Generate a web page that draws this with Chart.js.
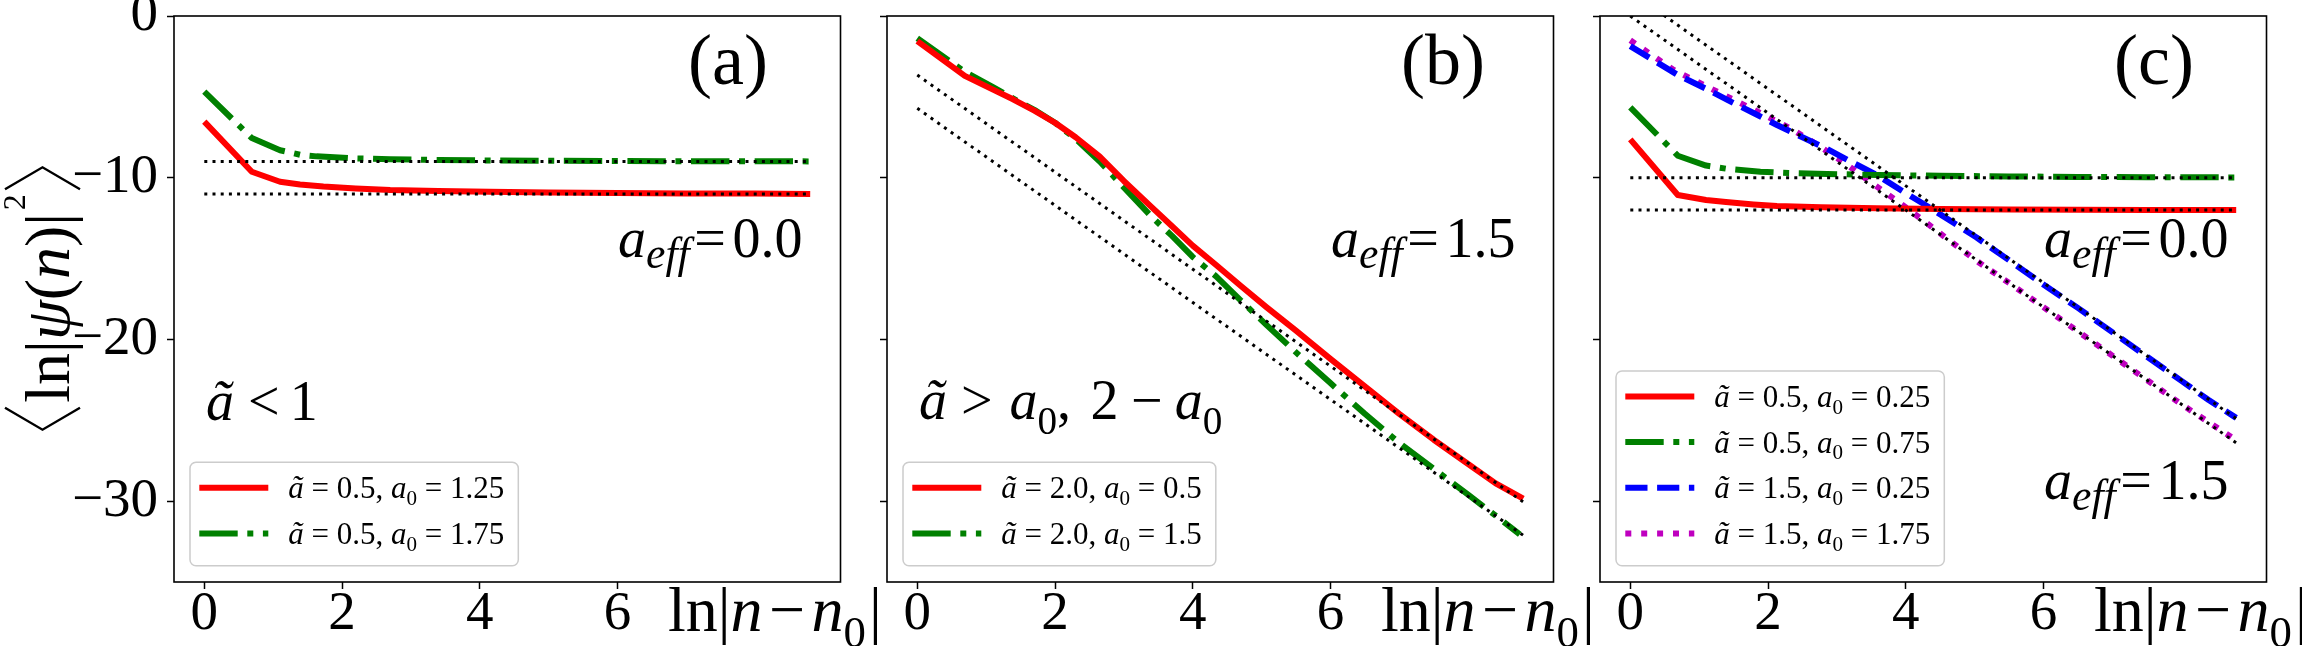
<!DOCTYPE html>
<html>
<head>
<meta charset="utf-8">
<script src="https://cdn.jsdelivr.net/npm/chart.js@4.4.1/dist/chart.umd.min.js"></script>
<style>
  html, body { margin: 0; padding: 0; background: #fff; }
  #wrap { position: relative; width: 2302px; height: 646px; overflow: hidden; }
  canvas { position: absolute; left: 0; top: 0; }
</style>
</head>
<body>
<div id="wrap">
  <canvas id="pa" width="2302" height="646"></canvas>
  <canvas id="pb" width="2302" height="646"></canvas>
  <canvas id="pc" width="2302" height="646"></canvas>
</div>
<script>
// ---- data (x = ln|n-n0|, y = <ln|psi(n)|^2>) ----
// panel (a)
const aRedX = [0, 0.69, 1.1, 1.39, 1.73, 2.2, 2.7, 3.4, 4.14, 5.0, 6.0, 7.0, 8.0, 8.8]
const aRedY = [-6.53, -9.63, -10.25, -10.42, -10.55, -10.67, -10.76, -10.82, -10.87, -10.92, -10.95, -10.97, -10.98, -11.0]
const aGreenX = [0, 0.69, 1.1, 1.39, 1.63, 2.16, 2.7, 3.4, 4.1, 5.0, 6.0, 7.0, 8.0, 8.8]
const aGreenY = [-4.68, -7.55, -8.3, -8.58, -8.68, -8.8, -8.86, -8.9, -8.93, -8.95, -8.97, -8.98, -8.98, -8.99]
const aRefX = [0, 8.8]
const aRef1 = [-9, -9]
const aRef2 = [-11, -11]
const aTilde = ['0.5', '0.5']
const aZero = ['1.25', '1.75']

// panel (b)
const bRedX = [0, 0.69, 1.1, 1.39, 1.7, 2.0, 2.3, 2.65, 3.0, 3.4, 3.7, 4.0, 4.34, 4.7, 5.07, 5.5, 6.0, 6.5, 7.0, 7.5, 8.0, 8.4, 8.8]
const bRedY = [-1.55, -3.7, -4.55, -5.15, -5.85, -6.6, -7.5, -8.7, -10.2, -11.8, -13.0, -14.2, -15.4, -16.7, -18.0, -19.45, -21.2, -22.9, -24.6, -26.2, -27.7, -28.9, -29.85]
const bGreenX = [0, 0.69, 1.1, 1.39, 1.7, 2.0, 2.3, 2.65, 3.0, 3.4, 3.7, 4.0, 4.34, 4.7, 5.07, 5.5, 6.0, 6.5, 7.0, 7.5, 8.0, 8.4, 8.75]
const bGreenY = [-1.38, -3.45, -4.4, -5.1, -5.8, -6.6, -7.6, -9.0, -10.6, -12.4, -13.6, -14.9, -16.1, -17.6, -19.1, -20.8, -22.7, -24.6, -26.4, -28.0, -29.6, -30.9, -32.05]
const bRefX = [0, 8.8]
const bRef1 = [-3.65, -30.05]
const bRef2 = [-5.71, -32.11]
const bTilde = ['2.0', '2.0']
const bZero = ['0.5', '1.5']

// panel (c)
const cRedX = [0, 0.69, 1.1, 1.39, 1.79, 2.13, 2.77, 3.58, 4.5, 5.5, 6.5, 7.5, 8.8]
const cRedY = [-7.63, -11.07, -11.38, -11.5, -11.65, -11.75, -11.83, -11.89, -11.94, -11.97, -11.98, -11.99, -12.0]
const cGreenX = [0, 0.69, 1.1, 1.39, 1.89, 2.3, 2.86, 3.6, 4.5, 5.5, 6.5, 7.5, 8.8]
const cGreenY = [-5.65, -8.64, -9.25, -9.44, -9.63, -9.71, -9.77, -9.83, -9.88, -9.92, -9.95, -9.97, -9.98]
const cBlueX = [0, 0.69, 1.1, 1.41, 1.79, 2.13, 2.5, 2.86, 3.2, 3.58, 4.0, 4.31, 4.7, 5.03, 5.5, 6.0, 6.5, 7.0, 7.5, 8.0, 8.4, 8.8]
const cBlueY = [-1.86, -3.65, -4.5, -5.19, -6.0, -6.74, -7.5, -8.22, -9.0, -9.83, -10.95, -11.75, -12.8, -13.7, -15.1, -16.6, -18.05, -19.55, -21.05, -22.55, -23.75, -24.85]
const cMagX = [0, 0.63, 1.29, 1.92, 2.35, 2.76, 3.15, 3.53, 3.92, 4.31, 4.69, 5.08, 5.51, 6.0, 6.5, 7.0, 7.5, 8.0, 8.75]
const cMagY = [-1.5, -3.34, -4.74, -6.06, -7.01, -8.08, -9.21, -10.39, -11.58, -12.82, -14.06, -15.29, -16.53, -18.0, -19.5, -21.0, -22.5, -24.0, -26.1]
const cRefX = [0, 8.8]
const cRef1 = [-10, -10]
const cRef2 = [-12, -12]
const cRef3 = [1.5, -24.9]
const cRef4 = [0, -26.4]
const cTilde = ['0.5', '0.5', '1.5', '1.5']
const cZero = ['0.25', '0.75', '0.25', '1.75']

const xTicks = [0, 2, 4, 6]
const yTicks = [-30, -20, -10, 0]

// ---- styles ----
const RED = '#ff0000', GREEN = '#008000', BLUE = '#0000ff', MAG = '#bf00bf'
const LW = 6
const SOLID = [], DASHDOT = [38.4, 9.6, 6, 9.6], DASHED = [22.2, 9.6], DOTTED = [6, 9.9]
const FONT = '"Liberation Serif", "Times New Roman", serif'
const PW = 666.5

Chart.defaults.font.family = FONT
Chart.defaults.color = '#000'

const pts = (xs, ys) => xs.map((x, i) => ({ x, y: ys[i] }))

// draws runs of [text, italic, scale, dy(em), pre(em), post(em)] from x on baseline y
function rich (ctx, runs, x, y, size, measureOnly) {
  let cx = x
  for (const r of runs) {
    const [t, it, sc, dy, pre, post] = r
    ctx.font = (it ? 'italic ' : '') + (size * (sc || 1)) + 'px ' + FONT
    cx += (pre || 0) * size
    if (!measureOnly) ctx.fillText(t, cx, y + (dy || 0) * size)
    cx += ctx.measureText(t).width + (post || 0) * size
  }
  return cx - x
}

const aEff = v => [['a', 1], ['eff', 1, 0.78, 0.2], ['=', 0, 1, 0, 0.08, 0.12], [v]]
const condA = [['ã', 1], ['<', 0, 1, 0, 0.25, 0.18], ['1']]
const condB = [['ã', 1], ['>', 0, 1, 0, 0.25, 0.3], ['a', 1], ['0', 0, 0.7, 0.27], [','],
  ['2', 0, 1, 0, 0.35], ['−', 0, 1, 0, 0.22, 0.22], ['a', 1], ['0', 0, 0.7, 0.27]]
const xLabel = [['ln'], ['|'], ['n', 1], ['−', 0, 1, 0, 0.1, 0.1], ['n', 1], ['0', 0, 0.7, 0.25], ['|', 0, 1, 0, 0.05]]

const DECO = {
  pa: { tag: '(a)', ylabel: true, notes: [[aEff('0.0'), 444, 257], [condA, 32, 419.5]] },
  pb: { tag: '(b)', notes: [[aEff('1.5'), 444, 257], [condB, 32, 419]] },
  pc: { tag: '(c)', notes: [[aEff('0.0'), 444, 257], [aEff('1.5'), 444, 499]] }
}

function drawLegend (ctx, ca, items) {
  const size = 31, rowH = 45.7
  const left = ca.left + 16, bottom = ca.bottom - 16.3
  const firstBase = bottom - 21.7 - (items.length - 1) * rowH
  const top = firstBase - 36
  const runsOf = ds => [['ã', 1], ['=', 0, 1, 0, 0.25, 0.25], [ds.aT + ','], ['a', 1, 1, 0, 0.25],
    ['0', 0, 0.68, 0.22], ['=', 0, 1, 0, 0.25, 0.25], [ds.a0]]
  let tw = 0
  items.forEach(ds => { tw = Math.max(tw, rich(ctx, runsOf(ds), 0, 0, size, true)) })
  const right = left + 98.3 + tw + 14
  ctx.save()
  ctx.beginPath()
  ctx.roundRect(left, top, right - left, bottom - top, 6)
  ctx.fillStyle = 'rgba(255,255,255,0.8)'
  ctx.fill()
  ctx.lineWidth = 1.5
  ctx.strokeStyle = '#cccccc'
  ctx.stroke()
  items.forEach((ds, i) => {
    const base = firstBase + i * rowH
    ctx.beginPath()
    ctx.setLineDash(ds.borderDash)
    ctx.lineCap = 'butt'
    ctx.lineWidth = ds.borderWidth
    ctx.strokeStyle = ds.borderColor
    ctx.moveTo(left + 9.3, base - 10.5)
    ctx.lineTo(left + 78.3, base - 10.5)
    ctx.stroke()
    ctx.setLineDash([])
    ctx.fillStyle = '#000'
    ctx.textBaseline = 'alphabetic'
    rich(ctx, runsOf(ds), left + 98.3, base, size)
  })
  ctx.restore()
}

function drawYLabel (ctx) {
  const runs = [['ln'], ['|'], ['ψ', 1], ['('], ['n', 1], [')'], ['|'], ['2', 0, 0.5, -0.69, 0.04]]
  const size = 64, bw = 22, gap = 5
  ctx.save()
  ctx.translate(69, 298.5)
  ctx.rotate(-Math.PI / 2)
  ctx.fillStyle = '#000'
  ctx.strokeStyle = '#000'
  ctx.lineWidth = 2.4
  const w = rich(ctx, runs, 0, 0, size, true) + 2 * (bw + gap)
  const x0 = -w / 2, xe = w / 2
  ctx.beginPath()
  ctx.moveTo(x0 + bw, -64); ctx.lineTo(x0, -26.5); ctx.lineTo(x0 + bw, 11)
  ctx.moveTo(xe - bw, -64); ctx.lineTo(xe, -26.5); ctx.lineTo(xe - bw, 11)
  ctx.stroke()
  rich(ctx, runs, x0 + bw + gap, 0, size)
  ctx.restore()
}

const decoPlugin = {
  id: 'deco',
  afterDraw (chart) {
    const d = DECO[chart.canvas.id]
    const ctx = chart.ctx
    const ca = chart.chartArea
    ctx.save()
    ctx.lineWidth = 1.6
    ctx.strokeStyle = '#000'
    ctx.strokeRect(ca.left, ca.top, ca.right - ca.left, ca.bottom - ca.top)
    ctx.fillStyle = '#000'
    ctx.textBaseline = 'alphabetic'
    rich(ctx, [[d.tag]], ca.left + 514, 84, 72)
    d.notes.forEach(n => rich(ctx, n[0], ca.left + n[1], n[2], 56))
    rich(ctx, xLabel, ca.left + 494, 631, 64)
    ctx.restore()
    drawLegend(ctx, ca, chart.data.datasets.filter(ds => ds.leg))
    if (d.ylabel) drawYLabel(ctx)
  }
}

function makePanel (id, left, series, refX, refs, showY) {
  const datasets = []
  refs.forEach(r => datasets.push({
    data: pts(refX, r), borderColor: '#000', borderWidth: 3, borderDash: [3, 5.2],
    pointRadius: 0, tension: 0, order: 0
  }))
  series.forEach(s => datasets.push({
    label: 'ã = ' + s.aT + ', a0 = ' + s.a0, leg: true, aT: s.aT, a0: s.a0,
    data: pts(s.x, s.y), borderColor: s.c, borderWidth: LW, borderDash: s.dash,
    borderCapStyle: 'butt', borderJoinStyle: 'round', pointRadius: 0, tension: 0, order: 1
  }))
  const tickFont = { family: FONT, size: 55 }
  return new Chart(document.getElementById(id), {
    type: 'line',
    data: { datasets },
    options: {
      responsive: false,
      animation: false,
      events: [],
      layout: { padding: { left: left - 100, right: 2302 - left - PW, top: 16, bottom: 0 } },
      plugins: { legend: { display: false }, tooltip: { enabled: false } },
      scales: {
        x: {
          type: 'linear', min: -0.44, max: 9.24,
          afterBuildTicks: s => { s.ticks = xTicks.map(v => ({ value: v })) },
          afterFit: s => { s.height = 64 },
          grid: { drawOnChartArea: false, drawTicks: true, tickLength: 7, tickWidth: 1.5, tickColor: '#000' },
          border: { display: false },
          ticks: { color: '#000', font: { ...tickFont, lineHeight: 0.9 }, padding: 1, maxRotation: 0, autoSkip: false }
        },
        y: {
          type: 'linear', min: -35, max: 0,
          afterBuildTicks: s => { s.ticks = yTicks.map(v => ({ value: v })) },
          afterFit: s => { s.width = 100 },
          grid: { drawOnChartArea: false, drawTicks: true, tickLength: 7, tickWidth: 1.5, tickColor: '#000' },
          border: { display: false },
          ticks: {
            display: showY, color: '#000', font: { ...tickFont, lineHeight: 0.2 }, padding: 9,
            callback: v => String(v).replace('-', '−')
          }
        }
      }
    },
    plugins: [decoPlugin]
  })
}

makePanel('pa', 174, [
  { x: aRedX, y: aRedY, c: RED, dash: SOLID, aT: aTilde[0], a0: aZero[0] },
  { x: aGreenX, y: aGreenY, c: GREEN, dash: DASHDOT, aT: aTilde[1], a0: aZero[1] }
], aRefX, [aRef1, aRef2], true)

makePanel('pb', 887, [
  { x: bRedX, y: bRedY, c: RED, dash: SOLID, aT: bTilde[0], a0: bZero[0] },
  { x: bGreenX, y: bGreenY, c: GREEN, dash: DASHDOT, aT: bTilde[1], a0: bZero[1] }
], bRefX, [bRef1, bRef2], false)

makePanel('pc', 1600, [
  { x: cRedX, y: cRedY, c: RED, dash: SOLID, aT: cTilde[0], a0: cZero[0] },
  { x: cGreenX, y: cGreenY, c: GREEN, dash: DASHDOT, aT: cTilde[1], a0: cZero[1] },
  { x: cBlueX, y: cBlueY, c: BLUE, dash: DASHED, aT: cTilde[2], a0: cZero[2] },
  { x: cMagX, y: cMagY, c: MAG, dash: DOTTED, aT: cTilde[3], a0: cZero[3] }
], cRefX, [cRef1, cRef2, cRef3, cRef4], false)
</script>
</body>
</html>
